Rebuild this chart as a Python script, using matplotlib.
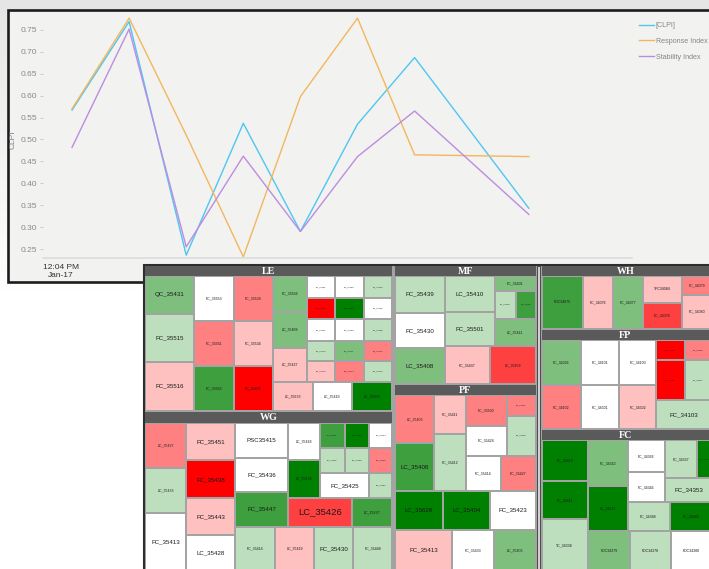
import matplotlib
matplotlib.use("Agg")
import numpy as np
import matplotlib.pyplot as plt
from matplotlib.patches import Rectangle
from matplotlib.lines import Line2D
from matplotlib.colors import LinearSegmentedColormap, Normalize

# ---------------- line chart data ----------------
SAMPLE_X = [1, 2, 3, 4, 5, 6, 7, 9]
CLPI = [0.567, 0.769, 0.236, 0.537, 0.290, 0.535, 0.687, 0.343]
RESPONSE = [0.570, 0.777, 0.510, 0.232, 0.598, 0.777, 0.465, 0.461]
STABILITY = [0.482, 0.752, 0.255, 0.462, 0.290, 0.461, 0.565, 0.329]
SERIES_NAMES = ["[CLPI]", "Response Index", "Stability Index"]
Y_TICKS = [0.25, 0.30, 0.35, 0.40, 0.45, 0.50, 0.55, 0.60, 0.65, 0.70, 0.75]
X_TICKS = [0.807]
X_TICK_LABELS = ["12:04 PM\nJan-17"]

# ---------------- treemap data ----------------
# leaf = (size, label, status)   status: -4 (red) .. 0 (white) .. 4 (green)
# node = (size, [children])      children alternate horizontal / vertical
LE_CELLS = [
    (145, [(112, "QC_35431", 2), (143, "FC_35515", 1), (145, "FC_35516", -1)]),
    (119, [(135, "FC_35553", 0), (133, "FC_35551", -2), (132, "FC_35552", 3)]),
    (117, [(135, "FC_35539", -2), (133, "FC_35534", -1), (132, "FC_35475", -4)]),
    (355, [
        (310, [
            (101, [(105, "FC_35556", 2), (105, "LC_35468", 2), (100, "LC_35427", -1)]),
            (254, [
                (65, [(84, "FC_35561", 0), (85, "FC_35562", 0), (85, "FC_35563", 1)]),
                (62, [(84, "FC_35564", -4), (85, "FC_35565", 4), (85, "FC_35566", 0)]),
                (63, [(84, "FC_35567", 0), (85, "FC_35568", 0), (85, "FC_35569", 1)]),
                (60, [(84, "FC_35570", 1), (85, "FC_35571", 2), (85, "FC_35572", -2)]),
                (60, [(84, "FC_35573", -1), (85, "FC_35574", -2), (85, "FC_35575", 1)]),
            ]),
        ]),
        (85, [(118, "LC_35633", -1), (117, "LC_35419", 0), (120, "LC_35609", 4)]),
    ]),
]

WG_CELLS = [
    (122, [(132, "LC_35427", -2), (133, "LC_35433", 1), (170, "FC_35413", 0)]),
    (145, [(111, "FC_35451", -1), (111, "FC_35438", -4), (108, "FC_35443", -1), (105, "LC_35428", 0)]),
    (465, [
        (305, [
            (156, [(103, "PSC35415", 0), (100, "FC_35436", 0), (102, "FC_35447", 3)]),
            (309, [
                (220, [
                    (95, [(110, "LC_35418", 0), (110, "LC_35434", 4)]),
                    (214, [
                        (75, [(74, "FC_35441", 3), (73, "FC_35442", 4), (67, "FC_35444", 0)]),
                        (73, [(74, "FC_35445", 1), (73, "FC_35446", 1), (67, "FC_35449", -2)]),
                        (72, [(147, "FC_35425", 0), (67, "FC_35450", 1)]),
                    ]),
                ]),
                (85, [(189, "LC_35426", -3), (120, "LC_35437", 3)]),
            ]),
        ]),
        (130, [(118, "FC_35414", 1), (117, "LC_35419", -1), (115, "FC_35430", 1), (115, "FC_35448", 1)]),
    ]),
]

MF_CELLS = [
    (147, [(108, "FC_35439", 1), (104, "FC_35430", 0), (103, "LC_35408", 2)]),
    (267, [
        (205, [
            (147, [(105, "LC_35410", 1), (100, "FC_35501", 1)]),
            (120, [(43, "FC_35401", 2),
                   (82, [(62, "FC_35402", 1), (58, "FC_35405", 3)]),
                   (80, "LC_35411", 2)]),
        ]),
        (110, [(133, "FC_35437", -1), (134, "LC_35409", -3)]),
    ]),
]

PF_CELLS = [
    (282, [
        (115, [(142, "LC_35403", -2), (140, "LC_35408", 3)]),
        (93, [(115, "FC_35411", -1), (167, "FC_35412", 1)]),
        (206, [
            (178, [
                (122, [(90, "FC_35500", -2), (88, "FC_35424", 0)]),
                (84, [(60, "FC_35421", -2), (118, "FC_35422", 1)]),
            ]),
            (104, [(104, "FC_35414", 0), (102, "FC_35427", -2)]),
        ]),
    ]),
    (113, [(140, "LC_35628", 4), (140, "LC_35404", 4), (134, "FC_35423", 0)]),
    (122, [(168, "FC_35413", -1), (124, "FC_35433", 0), (122, "LC_35406", 2)]),
]

WH_CELLS = [
    (123, "FDC34075", 3),
    (88, "FC_34076", -1),
    (89, "FC_34077", 2),
    (118, [(77, "TFC34084", -1), (73, "FC_34078", -3)]),
    (88, [(53, "FC_34079", -2), (97, "FC_34080", -1)]),
]

FP_CELLS = [
    (117, [(130, "FC_34026", 2), (123, "FC_34102", -2)]),
    (113, [(130, "FC_34101", 0), (123, "FC_34301", 0)]),
    (110, [(130, "FC_34100", 0), (123, "FC_34302", -1)]),
    (166, [
        (173, [
            (85, [(58, "FC_34104", -4), (115, "FC_34105", -4)]),
            (81, [(58, "FC_34106", -2), (115, "FC_34107", 1)]),
        ]),
        (80, "FC_34103", 1),
    ]),
]

FC_CELLS = [
    (137, [(118, "FC_34413", 4), (112, "FC_34411", 4), (150, "TC_34338", 1)]),
    (369, [
        (263, [
            (118, [(132, "FC_34362", 2), (131, "LC_34127", 4)]),
            (251, [
                (180, [
                    (112, [(92, "FC_34366", 0), (88, "FC_34346", 0)]),
                    (139, [(110, [(93, "FC_34337", 1), (46, "FC_34390", 4)]),
                           (70, "FC_34353", 1)]),
                ]),
                (83, [(125, "FC_34388", 1), (126, "FC_34383", 4)]),
            ]),
        ]),
        (117, [(125, "FDC34379", 2), (122, "FDC34378", 1), (122, "FDC34380", 0)]),
    ]),
]

GROUP_NAMES = ["LE", "WG", "MF", "PF", "WH", "FP", "FC"]
GROUP_CELLS = [LE_CELLS, WG_CELLS, MF_CELLS, PF_CELLS, WH_CELLS, FP_CELLS, FC_CELLS]

# ---------------- layout / styling ----------------
W, H = 709, 569
# group frames in pixels: x0, y_top, x1, y_bottom, header height, first split horizontal?
FRAMES = {
    "LE": (145.3, 266.0, 392.0, 410.5, 10.0, True),
    "WG": (145.3, 411.8, 392.0, 571.0, 10.8, True),
    "MF": (395.0, 266.0, 535.7, 383.8, 9.8, True),
    "PF": (395.0, 384.8, 535.7, 571.0, 10.4, False),
    "WH": (541.7, 266.0, 712.0, 328.5, 10.0, True),
    "FP": (541.7, 329.8, 712.0, 428.5, 10.0, True),
    "FC": (541.7, 429.8, 712.0, 571.0, 10.6, True),
}
LARGE = {"LC_35426"}
MEDIUM = {"QC_35431", "FC_35515", "FC_35516", "FC_35451", "PSC35415", "FC_35436",
          "FC_35438", "FC_35443", "LC_35428", "FC_35447", "FC_35425", "FC_35439",
          "LC_35410", "FC_35430", "FC_35501", "LC_35408", "LC_35628", "LC_35404",
          "FC_35423", "FC_35413", "FC_34103", "FC_34353"}

cmap = LinearSegmentedColormap.from_list("rwg", ["#ff0000", "#ffffff", "#008000"])
norm = Normalize(-4, 4)


def place(children, x0, y0, x1, y1, horiz, out):
    total = float(sum(c[0] for c in children))
    pos = x0 if horiz else y0
    span = (x1 - x0) if horiz else (y1 - y0)
    for c in children:
        d = span * c[0] / total
        r = (pos, y0, pos + d, y1) if horiz else (x0, pos, x1, pos + d)
        pos += d
        if len(c) == 2:
            place(c[1], *r, not horiz, out)
        else:
            out.append((r, c[1], c[2]))


plt.rcParams["font.family"] = ["Liberation Sans", "DejaVu Sans"]
fig = plt.figure(figsize=(W / 100, H / 100), dpi=100)
fig.patch.set_facecolor("white")

# background + chart panel
bg = fig.add_axes([0, 0, 1, 1], zorder=0)
bg.set_xlim(0, W)
bg.set_ylim(H, 0)
bg.axis("off")
shade = np.linspace(0.9, 1.0, 64)
grad = np.repeat(shade[:, None, None], 3, axis=2)
bg.imshow(grad, extent=[0, W, 295, 0], aspect="auto", zorder=0)
bg.add_patch(Rectangle((7.8, 9.6), 760, 272.2, facecolor="#f2f2f0",
                       edgecolor="#1c1c1c", lw=1.9, zorder=1))

# line chart
ax = fig.add_axes([43 / W, 1 - 258 / H, (632 - 43) / W, (258 - 12) / H], zorder=1)
ax.set_facecolor("none")
ax.plot(SAMPLE_X, CLPI, color="#4fc6f2", lw=1.0, label=SERIES_NAMES[0])
ax.plot(SAMPLE_X, RESPONSE, color="#f2b75e", lw=1.0, label=SERIES_NAMES[1])
ax.plot(SAMPLE_X, STABILITY, color="#bd8ce0", lw=1.0, label=SERIES_NAMES[2])
ax.set_xlim(0.492, 10.807)
ax.set_ylim(0.2295, 0.791)
ax.set_yticks(Y_TICKS)
ax.set_yticklabels([f"{v:.2f}" for v in Y_TICKS])
ax.set_xticks(X_TICKS)
ax.set_xticklabels(X_TICK_LABELS, linespacing=1.05)
ax.tick_params(axis="y", length=2.5, width=0.6, color="#c4c4c4", pad=1.5,
               labelsize=6, labelcolor="#8a8a8a")
ax.tick_params(axis="x", length=0, pad=4.5, labelsize=6, labelcolor="#333333")
for s in ["top", "right", "left"]:
    ax.spines[s].set_visible(False)
ax.spines["bottom"].set_color("#dadada")
ax.spines["bottom"].set_linewidth(1.1)
ax.set_ylabel("CLPI", fontsize=6, color="#808080")
ax.yaxis.set_label_coords(-0.045, 0.48)
handles = [Line2D([], [], color=c, lw=1.0) for c in ["#4fc6f2", "#f2b75e", "#bd8ce0"]]
ax.legend(handles, SERIES_NAMES, loc="upper left", bbox_to_anchor=(639 / W, 1 - 22 / H),
          bbox_transform=fig.transFigure, frameon=False, fontsize=5.1,
          labelcolor="#858585", handlelength=2.1, handletextpad=0.25,
          labelspacing=1.25, borderaxespad=0, borderpad=0)

# treemap
tm = fig.add_axes([0, 0, 1, 1], zorder=2)
tm.set_xlim(0, W)
tm.set_ylim(H, 0)
tm.axis("off")
tm.patch.set_visible(False)
tm.add_patch(Rectangle((144.0, 264.9), 700, 320, facecolor="#a3a3a3",
                       edgecolor="#2e2e2e", lw=1.5))
tm.add_patch(Rectangle((537.0, 265.6), 3.0, 310, facecolor="#d0d0d0",
                       edgecolor="#4a4a4a", lw=0.7))

for name, cells in zip(GROUP_NAMES, GROUP_CELLS):
    x0, yt, x1, yb, hh, horiz = FRAMES[name]
    tm.add_patch(Rectangle((x0, yt), x1 - x0, hh, facecolor="#5a5a5a", edgecolor="none"))
    tm.text((x0 + min(x1, W)) / 2, yt + hh / 2 + 0.3, name, ha="center", va="center",
            color="white", fontsize=7.2, fontweight="bold",
            family=["Liberation Serif", "DejaVu Serif"])
    leaves = []
    place(cells, x0, yt + hh, x1, yb, horiz, leaves)
    for (cx0, cy0, cx1, cy1), label, status in leaves:
        tm.add_patch(Rectangle((cx0 + 1, cy0 + 1), cx1 - cx0 - 2, cy1 - cy0 - 2,
                               facecolor=cmap(norm(status)), edgecolor="none"))
        cw = cx1 - cx0
        if label in LARGE:
            fs = 6.8
        elif label in MEDIUM:
            fs = 4.4
        elif cw < 29:
            fs = 1.6
        else:
            fs = 2.6
        tm.text((cx0 + cx1) / 2, (cy0 + cy1) / 2, label, ha="center", va="center",
                fontsize=fs, color="#1a1a1a")

fig.savefig("out.png", dpi=100, facecolor=fig.get_facecolor())
